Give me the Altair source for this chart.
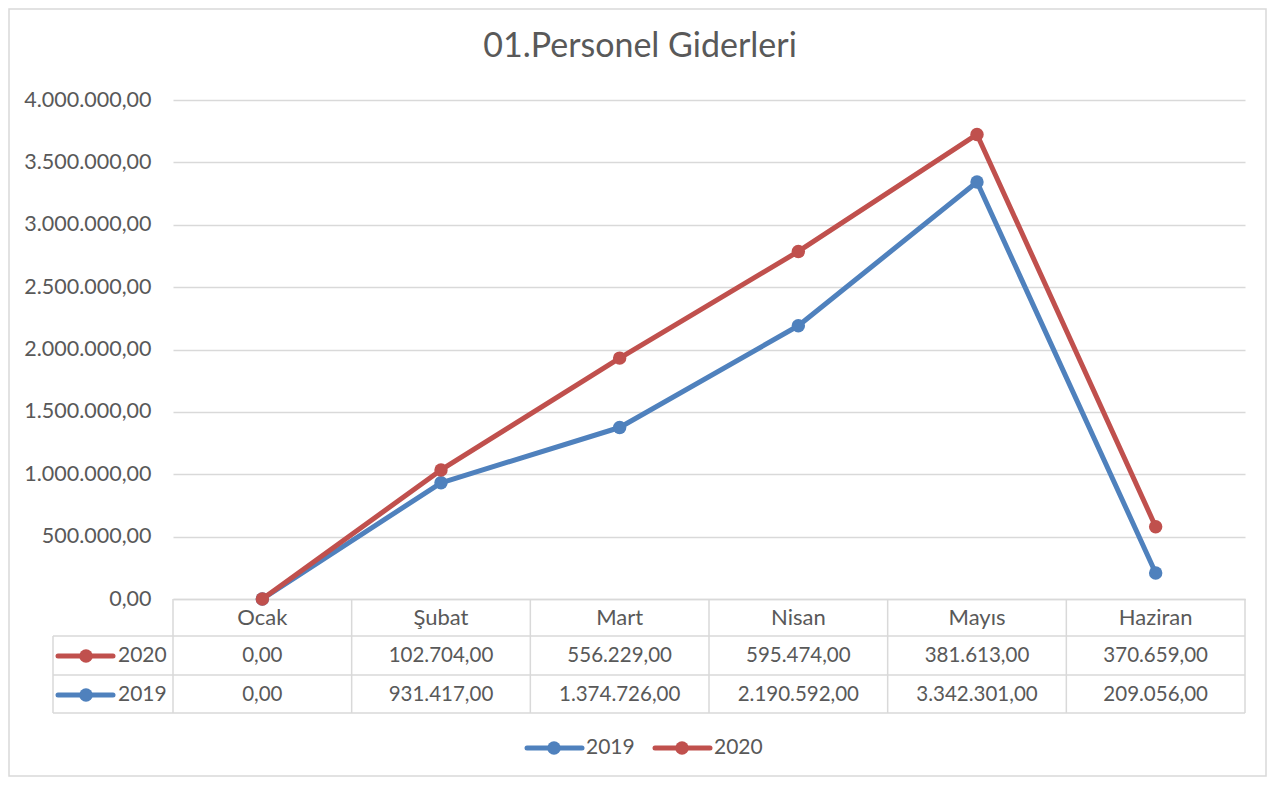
import altair as alt
import pandas as pd

months = ["Ocak", "Şubat", "Mart", "Nisan", "Mayıs", "Haziran"]
v2019 = [0.0, 931417.0, 1374726.0, 2190592.0, 3342301.0, 209056.0]
v2020 = [0.0, 102704.0, 556229.0, 595474.0, 381613.0, 370659.0]
series = ["2019", "2020"]
colors = ["#4F81BD", "#C0504D"]
y_ticks = [0, 500000, 1000000, 1500000, 2000000, 2500000, 3000000, 3500000, 4000000]
title_text = "01.Personel Giderleri"

rows = []
for i, m in enumerate(months):
    rows.append({"month": m, "series": "2019", "value": v2019[i], "order": 0})
    rows.append({"month": m, "series": "2020", "value": v2020[i], "order": 1})
df = pd.DataFrame(rows)
dummy = pd.DataFrame({"k": [0]})
mdf = pd.DataFrame({"month": months})

FONT = "Lato"
TXT = "#595959"
GRID = "#D9D9D9"
W, H = 1072, 499
LW = 5
PS = 180

xscale = alt.Scale(type="band", paddingInner=0, paddingOuter=0)
x_ax = alt.Axis(title=None, ticks=False, domainColor=GRID, domainWidth=1.5, grid=False,
                labelFont=FONT, labelFontSize=22, labelColor=TXT,
                labelBaseline="middle", labelPadding=18, labelAngle=0)
x_enc = alt.X("month:N", sort=months, scale=xscale, axis=x_ax)
yscale = alt.Scale(domain=[0, 4000000], nice=False)
y_ax = alt.Axis(title=None, values=y_ticks, format=",.2f", domain=False, ticks=False, grid=True,
                gridColor=GRID, gridWidth=1.5, labelFont=FONT, labelFontSize=21.5,
                labelColor=TXT, labelPadding=22)
y_enc = alt.Y("y1:Q", scale=yscale, axis=y_ax)

base = alt.Chart(df).transform_stack(
    stack="value", groupby=["month"], as_=["y0", "y1"],
    sort=[alt.SortField("order", order="ascending")])

border = alt.Chart(dummy).mark_rect(fillOpacity=0, stroke=GRID, strokeWidth=1.5).encode(
    x=alt.value(-164), x2=alt.value(1093), y=alt.value(-91), y2=alt.value(676))

layers = [border]

# table grid
for yy in [536, 575, 613]:
    layers.append(alt.Chart(dummy).mark_rule(color=GRID, strokeWidth=1.5).encode(
        x=alt.value(-120), x2=alt.value(W), y=alt.value(yy)))
layers.append(alt.Chart(dummy).mark_rule(color=GRID, strokeWidth=1.5).encode(
    x=alt.value(-120), y=alt.value(536), y2=alt.value(613)))
layers.append(alt.Chart(mdf).mark_rule(color=GRID, strokeWidth=1.5).encode(
    x=alt.X("month:N", sort=months, scale=xscale, axis=x_ax, bandPosition=0),
    y=alt.value(H), y2=alt.value(613)))
layers.append(alt.Chart(dummy).mark_rule(color=GRID, strokeWidth=1.5).encode(
    x=alt.value(W), y=alt.value(H), y2=alt.value(613)))

# lines and points
for s, c in zip(series, colors):
    layers.append(base.transform_filter(alt.datum.series == s).mark_line(
        color=c, strokeWidth=LW, strokeJoin="round", strokeCap="round").encode(x=x_enc, y=y_enc))
    layers.append(base.transform_filter(alt.datum.series == s).mark_point(
        filled=True, color=c, size=PS, opacity=1, shape="circle").encode(x=x_enc, y=y_enc))

# table values
row_y = {"2020": 556, "2019": 595}
for s, c in zip(series, colors):
    ry = row_y[s]
    layers.append(alt.Chart(df).transform_filter(alt.datum.series == s).mark_text(
        font=FONT, fontSize=20.5, color=TXT, baseline="middle", align="center").encode(
        x=x_enc, y=alt.value(ry), text=alt.Text("value:Q", format=",.2f")))
    layers.append(alt.Chart(dummy).mark_rule(color=c, strokeWidth=LW, strokeCap="round").encode(
        x=alt.value(-115), x2=alt.value(-60), y=alt.value(ry)))
    layers.append(alt.Chart(dummy).mark_point(filled=True, color=c, size=PS, opacity=1).encode(
        x=alt.value(-87), y=alt.value(ry)))
    layers.append(alt.Chart(pd.DataFrame({"t": [s]})).mark_text(
        font=FONT, fontSize=21, color=TXT, baseline="middle", align="left").encode(
        x=alt.value(-55), y=alt.value(ry), text="t:N"))

# bottom legend
leg_x = {"2019": 354, "2020": 482}
for s, c in zip(series, colors):
    lx = leg_x[s]
    layers.append(alt.Chart(dummy).mark_rule(color=c, strokeWidth=LW, strokeCap="round").encode(
        x=alt.value(lx), x2=alt.value(lx + 55), y=alt.value(648)))
    layers.append(alt.Chart(dummy).mark_point(filled=True, color=c, size=PS, opacity=1).encode(
        x=alt.value(lx + 27), y=alt.value(648)))
    layers.append(alt.Chart(pd.DataFrame({"t": [s]})).mark_text(
        font=FONT, fontSize=21, color=TXT, baseline="middle", align="left").encode(
        x=alt.value(lx + 59), y=alt.value(648), text="t:N"))

# chart title as text mark
layers.append(alt.Chart(pd.DataFrame({"t": [title_text]})).mark_text(
    font=FONT, fontSize=34, color=TXT, baseline="alphabetic", align="center").encode(
    x=alt.value(467), y=alt.value(-43), text="t:N"))

chart = alt.layer(*layers).properties(
    width=W, height=H,
    autosize=alt.AutoSizeParams(type="none"),
    padding={"left": 165, "top": 92, "right": 22, "bottom": 178},
).configure(
    locale={"number": {"decimal": ",", "thousands": ".", "grouping": [3], "currency": ["", " TL"]}}
).configure_view(stroke=None)

chart.save("out.html", embed_options={"renderer": "svg", "actions": False})
